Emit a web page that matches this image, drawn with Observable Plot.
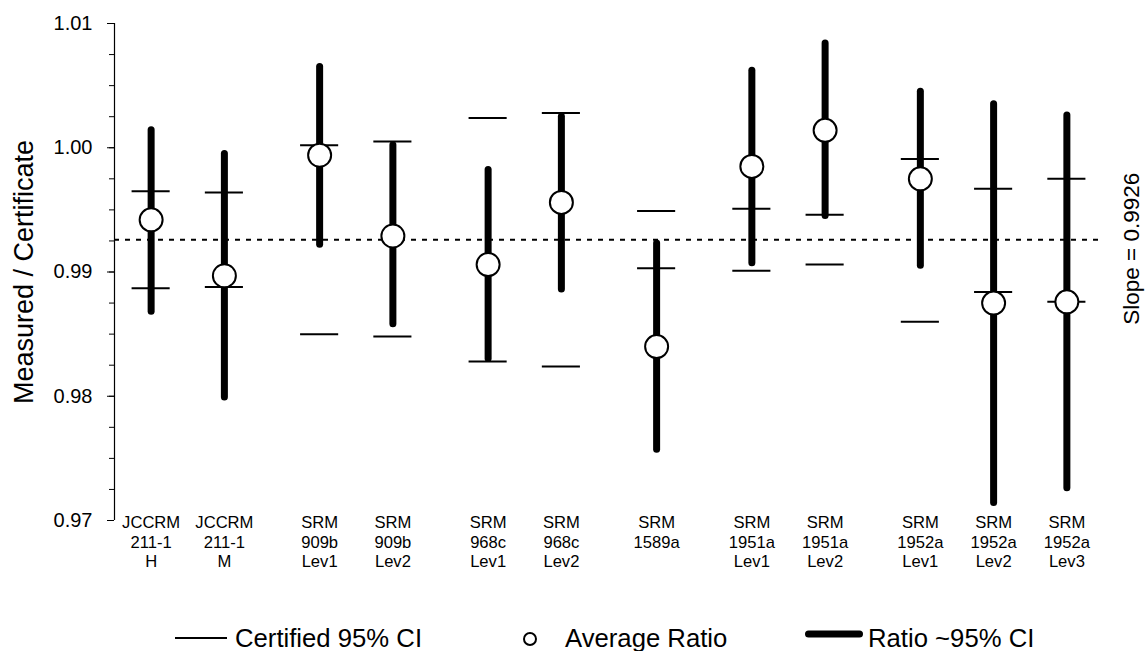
<!DOCTYPE html>
<html><head><meta charset="utf-8">
<script src="https://cdn.jsdelivr.net/npm/d3@7"></script>
<script src="https://cdn.jsdelivr.net/npm/@observablehq/plot@0.6"></script>
<style>
body{margin:0;background:#fff;font-family:"Liberation Sans",Arial,sans-serif;}
#wrap{position:relative;width:1145px;height:651px;overflow:hidden;}
.leg{position:absolute;font-size:25.7px;color:#000;line-height:30px;white-space:nowrap;}
.sw{position:absolute;overflow:visible;}
</style></head><body><div id="wrap"></div>
<script>
// ---- data ----
const groupNames = ["JCCRM 211-1", "SRM 909b", "SRM 968c", "SRM 1589a", "SRM 1951a", "SRM 1952a"];
const groupIndex = [0, 0, 1, 1, 2, 2, 3, 4, 4, 5, 5, 5];
const levels = ["H", "M", "Lev1", "Lev2", "Lev1", "Lev2", "", "Lev1", "Lev2", "Lev1", "Lev2", "Lev3"];
const avgRatio = [0.9942, 0.9897, 0.9994, 0.9929, 0.9906, 0.9956, 0.9840, 0.9985, 1.0014, 0.9975, 0.9875, 0.9876];
const ratioLo  = [0.9868, 0.9799, 0.9922, 0.9858, 0.9830, 0.9886, 0.9757, 0.9907, 0.9945, 0.9905, 0.9714, 0.9726];
const ratioHi  = [1.0014, 0.9995, 1.0065, 1.0002, 0.9982, 1.0025, 0.9923, 1.0062, 1.0084, 1.0045, 1.0035, 1.0026];
const certLo   = [0.9887, 0.9888, 0.9850, 0.9848, 0.9828, 0.9824, 0.9903, 0.9901, 0.9906, 0.9860, 0.9884, 0.9876];
const certHi   = [0.9965, 0.9964, 1.0002, 1.0005, 1.0024, 1.0028, 0.9949, 0.9951, 0.9946, 0.9991, 0.9967, 0.9975];
const slope = 0.9926;
const yTicks = [0.97, 0.98, 0.99, 1.00, 1.01];
const yMinorStep = 0.0025;
const legendLabels = ["Certified 95% CI", "Average Ratio", "Ratio ~95% CI"];

// ---- build ----
const GROUP_GAP = 0.3, CERT_HALF = 0.26;
const rows = levels.map((lev, i) => ({
  label: groupNames[groupIndex[i]].split(" ").concat(lev ? [lev] : []).join("\n"),
  pos: i + GROUP_GAP * groupIndex[i],
  avg: avgRatio[i], lo: ratioLo[i], hi: ratioHi[i], cLo: certLo[i], cHi: certHi[i]
}));
const xDomain = [-0.5, 13];
const yMinor = d3.range(0, Math.round((yTicks[yTicks.length-1] - yTicks[0]) / yMinorStep) + 1)
  .map(i => +(yTicks[0] + i * yMinorStep).toFixed(4));
const font = '"Liberation Sans", Arial, sans-serif';

const chart = Plot.plot({
  width: 1145, height: 580,
  marginTop: 23, marginBottom: 60, marginLeft: 114, marginRight: 42,
  x: {domain: xDomain, axis: null},
  y: {domain: [yTicks[0], yTicks[yTicks.length-1]], axis: null},
  style: {fontFamily: font, background: "white", color: "black", overflow: "visible"},
  marks: [
    Plot.ruleY([slope], {stroke: "black", strokeWidth: 2, strokeDasharray: "5,6"}),
    Plot.ruleX([xDomain[0]], {stroke: "black", strokeWidth: 1.2}),
    Plot.axisY(yMinor, {anchor: "left", tickSize: 5, tickFormat: () => "", label: null}),
    Plot.axisY(yTicks, {anchor: "left", tickSize: 7, tickPadding: 15, tickFormat: d => d.toFixed(2), fontSize: 20, label: null}),
    Plot.text(["Measured / Certificate"], {frameAnchor: "left", textAnchor: "middle", rotate: -90, dx: -90, fontSize: 27, fill: "black"}),
    Plot.text([slope], {y: d => d, frameAnchor: "right", textAnchor: "middle", text: d => `Slope = ${d}`, rotate: -90, dx: 28, dy: 9, fontSize: 22.5, fill: "black"}),
    Plot.text(rows, {x: "pos", frameAnchor: "bottom", text: "label", lineAnchor: "top", lineHeight: 1.2, fontSize: 16.6, dy: -7, fill: "black"}),
    Plot.ruleX(rows, {x: "pos", y1: "lo", y2: "hi", stroke: "black", strokeWidth: 7, strokeLinecap: "round"}),
    Plot.ruleY(rows, {y: "cLo", x1: d => d.pos - CERT_HALF, x2: d => d.pos + CERT_HALF, stroke: "black", strokeWidth: 2}),
    Plot.ruleY(rows, {y: "cHi", x1: d => d.pos - CERT_HALF, x2: d => d.pos + CERT_HALF, stroke: "black", strokeWidth: 2}),
    Plot.dot(rows, {x: "pos", y: "avg", r: 11.5, fill: "white", stroke: "black", strokeWidth: 2})
  ]
});
const wrap = document.getElementById("wrap");
wrap.appendChild(chart);

// ---- legend (below the svg) ----
const NS = "http://www.w3.org/2000/svg";
function swatch(left, top, w, h, draw) {
  const s = document.createElementNS(NS, "svg");
  s.setAttribute("class", "sw");
  s.setAttribute("width", w); s.setAttribute("height", h);
  s.style.left = left + "px"; s.style.top = top + "px";
  draw(s); wrap.appendChild(s);
}
function el(s, tag, attrs) {
  const e = document.createElementNS(NS, tag);
  for (const k in attrs) e.setAttribute(k, attrs[k]);
  s.appendChild(e);
}
function label(text, left) {
  const d = document.createElement("div");
  d.className = "leg"; d.textContent = text;
  d.style.left = left + "px"; d.style.top = "623px";
  wrap.appendChild(d);
}
swatch(175, 628, 52, 20, s => el(s, "line", {x1: 0, x2: 52, y1: 10, y2: 10, stroke: "black", "stroke-width": 2}));
label(legendLabels[0], 235);
swatch(520, 629, 20, 20, s => el(s, "circle", {cx: 10, cy: 10, r: 6, fill: "white", stroke: "black", "stroke-width": 2}));
label(legendLabels[1], 565);
swatch(805, 624, 58, 20, s => el(s, "line", {x1: 3.5, x2: 54.5, y1: 10, y2: 10, stroke: "black", "stroke-width": 7, "stroke-linecap": "round"}));
label(legendLabels[2], 868);
</script></body></html>
